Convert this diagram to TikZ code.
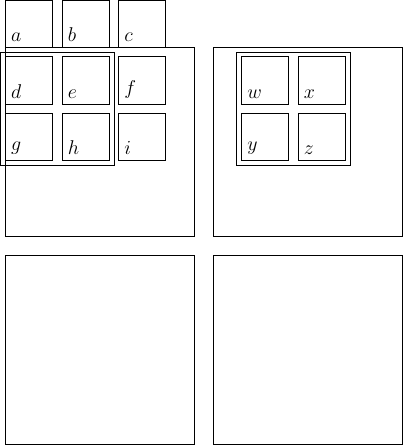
\documentclass[tikz,border=0pt]{standalone}
\usetikzlibrary{fit}
\begin{document}
\begin{tikzpicture}[font=\large,
  cell/.style={draw,minimum size=1cm,inner sep=0pt,outer sep=0pt,anchor=south west},
  board/.style={cell,minimum size=4cm},
  tag/.style={anchor=south west},
  group/.style={draw,inner sep=0.1cm,outer sep=0pt}]
  \useasboundingbox (-0.01,-0.02) rectangle (8.51,9.4);
  \node[board] (P1) at (0.1,4.4) {}; \node[board] (P2) at (4.5,4.4) {};
  \node[board] (P3) at (0.1,0) {};   \node[board] (P4) at (4.5,0) {};
  % left grid
  \node[cell] (a) at (0.1,8.4) {}; \node[cell] (b) at (1.3,8.4) {}; \node[cell] (c) at (2.5,8.4) {};
  \node[cell] (d) at (0.1,7.2) {}; \node[cell] (e) at (1.3,7.2) {}; \node[cell] (f) at (2.5,7.2) {};
  \node[cell] (g) at (0.1,6.0) {}; \node[cell] (h) at (1.3,6.0) {}; \node[cell] (i) at (2.5,6.0) {};
  \node[tag] (ta) at (a.south west) {$a$}; \node[tag] (tb) at (b.south west) {$b$}; \node[tag] (tc) at (c.south west) {$c$};
  \node[tag] (td) at (d.south west) {$d$}; \node[tag] (te) at (e.south west) {$e$}; \node[tag] (tf) at (f.south west) {$f$};
  \node[tag] (tg) at (g.south west) {$g$}; \node[tag] (th) at (h.south west) {$h$}; \node[tag] (ti) at (i.south west) {$i$};
  \node[group,fit=(d)(e)(g)(h)] (G1) {};
  % right grid
  \node[cell] (w) at (5.1,7.2) {}; \node[cell] (x) at (6.3,7.2) {};
  \node[cell] (y) at (5.1,6.0) {}; \node[cell] (z) at (6.3,6.0) {};
  \node[tag] (tw) at (w.south west) {$w$}; \node[tag] (tx) at (x.south west) {$x$};
  \node[tag] (ty) at (y.south west) {$y$}; \node[tag] (tz) at (z.south west) {$z$};
  \node[group,fit=(w)(x)(y)(z)] (G2) {};
\end{tikzpicture}
\end{document}
